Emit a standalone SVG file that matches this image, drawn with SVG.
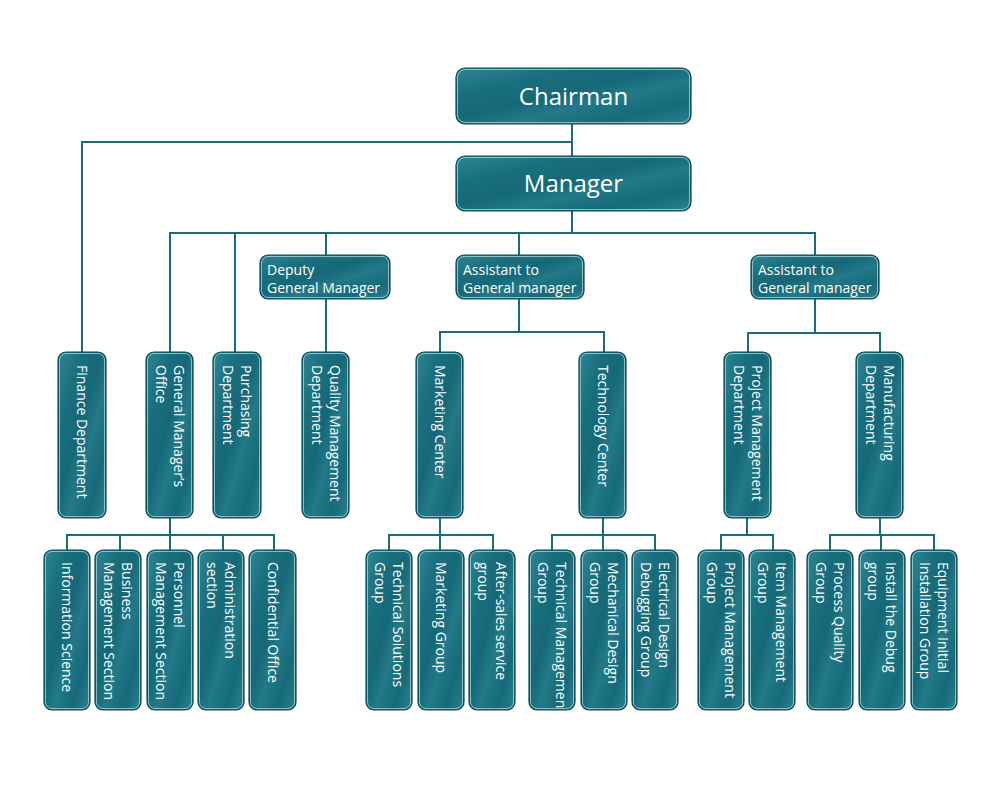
<svg xmlns="http://www.w3.org/2000/svg" width="1000" height="810" viewBox="0 0 1000 810">
<defs>
<linearGradient id="g" x1="0" y1="0" x2="1" y2="1">
<stop offset="0" stop-color="#2f8593"/>
<stop offset="0.25" stop-color="#1a6f7f"/>
<stop offset="0.45" stop-color="#156878"/>
<stop offset="0.6" stop-color="#237988"/>
<stop offset="0.8" stop-color="#166a7a"/>
<stop offset="1" stop-color="#2a8290"/>
</linearGradient>
<clipPath id="clipTM"><rect x="530" y="551" width="44" height="158" rx="7"/></clipPath>
<style>
.box{fill:url(#g);stroke:#0b4750;stroke-width:1.2}
.hi{fill:none;stroke:#b9e0e4;stroke-width:1;opacity:.7}
.lbl{font-family:"Open Sans","Noto Sans",sans-serif;font-size:14px;fill:#fff}
.big{font-size:24px;text-anchor:middle}
.wire{fill:none;stroke:#1a6c7a;stroke-width:2}
</style>
</defs>
<rect width="1000" height="810" fill="#fff"/>
<g id="connectors" class="wire">
<path d="M572 124V156"/>
<path d="M572 142H82V352"/>
<path d="M572 211V233"/>
<path d="M170 352V233H815V255"/>
<path d="M235 233V352"/>
<path d="M326 233V255M326 299V352"/>
<path d="M519 233V255M519 299V332M440 352V332H604V352"/>
<path d="M815 299V333M748 352V333H880V352"/>
<path d="M170 518V535M67 550V535H274V550M120 535V550M170 535V550M223 535V550"/>
<path d="M440 518V535M389 550V535H493V550M440 535V550"/>
<path d="M603 518V535M552 550V535H655V550M603 535V550"/>
<path d="M747 518V535M721 550V535H773V550"/>
<path d="M880 518V535M830 550V535H934V550M881 535V550"/>
</g>

<g id="chairman"><rect class="box" x="456" y="68" width="235" height="56" rx="9"/><rect class="hi" x="457.5" y="69.5" width="232" height="53" rx="7.5"/><text class="lbl big" x="573.5" y="104.5">Chairman</text></g>
<g id="manager"><rect class="box" x="456" y="156" width="235" height="55" rx="9"/><rect class="hi" x="457.5" y="157.5" width="232" height="52" rx="7.5"/><text class="lbl big" x="573.5" y="192">Manager</text></g>

<g id="deputy"><rect class="box" x="260" y="255" width="130" height="44" rx="8"/><rect class="hi" x="261.5" y="256.5" width="127" height="41" rx="6.5"/><text class="lbl"><tspan x="267" y="275">Deputy</tspan><tspan x="267" y="293">General Manager</tspan></text></g>
<g id="assistant1"><rect class="box" x="456" y="255" width="128" height="44" rx="8"/><rect class="hi" x="457.5" y="256.5" width="125" height="41" rx="6.5"/><text class="lbl"><tspan x="463" y="275">Assistant to</tspan><tspan x="463" y="293">General manager</tspan></text></g>
<g id="assistant2"><rect class="box" x="751" y="255" width="128" height="44" rx="8"/><rect class="hi" x="752.5" y="256.5" width="125" height="41" rx="6.5"/><text class="lbl"><tspan x="758" y="275">Assistant to</tspan><tspan x="758" y="293">General manager</tspan></text></g>

<g id="finance"><rect class="box" x="58" y="352" width="48" height="166" rx="8"/><rect class="hi" x="59.5" y="353.5" width="45" height="163" rx="6.5"/><text class="lbl" transform="translate(82 365) rotate(90)" y="5">Finance Department</text></g>
<g id="gm-office"><rect class="box" x="146" y="352" width="47" height="166" rx="8"/><rect class="hi" x="147.5" y="353.5" width="44" height="163" rx="6.5"/><text class="lbl" transform="translate(169.5 365) rotate(90)"><tspan x="0" y="-4">General Manager’s</tspan><tspan x="0" y="14">Office</tspan></text></g>
<g id="purchasing"><rect class="box" x="213" y="352" width="48" height="166" rx="8"/><rect class="hi" x="214.5" y="353.5" width="45" height="163" rx="6.5"/><text class="lbl" transform="translate(237 365) rotate(90)"><tspan x="0" y="-4">Purchasing</tspan><tspan x="0" y="14">Department</tspan></text></g>
<g id="quality"><rect class="box" x="302" y="352" width="47" height="166" rx="8"/><rect class="hi" x="303.5" y="353.5" width="44" height="163" rx="6.5"/><text class="lbl" transform="translate(325.5 365) rotate(90)"><tspan x="0" y="-4">Quality Management</tspan><tspan x="0" y="14">Department</tspan></text></g>
<g id="marketing-center"><rect class="box" x="416" y="352" width="47" height="166" rx="8"/><rect class="hi" x="417.5" y="353.5" width="44" height="163" rx="6.5"/><text class="lbl" transform="translate(439.5 365) rotate(90)" y="5">Marketing Center</text></g>
<g id="technology-center"><rect class="box" x="579" y="352" width="47" height="166" rx="8"/><rect class="hi" x="580.5" y="353.5" width="44" height="163" rx="6.5"/><text class="lbl" transform="translate(602.5 365) rotate(90)" y="5">Technology Center</text></g>
<g id="project-dept"><rect class="box" x="724" y="352" width="47" height="166" rx="8"/><rect class="hi" x="725.5" y="353.5" width="44" height="163" rx="6.5"/><text class="lbl" transform="translate(747.5 365) rotate(90)"><tspan x="0" y="-4">Project Management</tspan><tspan x="0" y="14">Department</tspan></text></g>
<g id="manufacturing"><rect class="box" x="856" y="352" width="47" height="166" rx="8"/><rect class="hi" x="857.5" y="353.5" width="44" height="163" rx="6.5"/><text class="lbl" transform="translate(879.5 365) rotate(90)"><tspan x="0" y="-4">Manufacturing</tspan><tspan x="0" y="14">Department</tspan></text></g>

<g id="info-science"><rect class="box" x="44" y="550" width="46" height="160" rx="8"/><rect class="hi" x="45.5" y="551.5" width="43" height="157" rx="6.5"/><text class="lbl" transform="translate(67 562) rotate(90)" y="5">Information Science</text></g>
<g id="business"><rect class="box" x="95" y="550" width="46" height="160" rx="8"/><rect class="hi" x="96.5" y="551.5" width="43" height="157" rx="6.5"/><text class="lbl" transform="translate(118 562) rotate(90)"><tspan x="0" y="-4">Business</tspan><tspan x="0" y="14">Management Section</tspan></text></g>
<g id="personnel"><rect class="box" x="147" y="550" width="46" height="160" rx="8"/><rect class="hi" x="148.5" y="551.5" width="43" height="157" rx="6.5"/><text class="lbl" transform="translate(170 562) rotate(90)"><tspan x="0" y="-4">Personnel</tspan><tspan x="0" y="14">Management Section</tspan></text></g>
<g id="administration"><rect class="box" x="198" y="550" width="46" height="160" rx="8"/><rect class="hi" x="199.5" y="551.5" width="43" height="157" rx="6.5"/><text class="lbl" transform="translate(221 562) rotate(90)"><tspan x="0" y="-4">Administration</tspan><tspan x="0" y="14">section</tspan></text></g>
<g id="confidential"><rect class="box" x="249" y="550" width="47" height="160" rx="8"/><rect class="hi" x="250.5" y="551.5" width="44" height="157" rx="6.5"/><text class="lbl" transform="translate(272.5 562) rotate(90)" y="5">Confidential Office</text></g>

<g id="tech-solutions"><rect class="box" x="366" y="550" width="46" height="160" rx="8"/><rect class="hi" x="367.5" y="551.5" width="43" height="157" rx="6.5"/><text class="lbl" transform="translate(389 562) rotate(90)"><tspan x="0" y="-4">Technical Solutions</tspan><tspan x="0" y="14">Group</tspan></text></g>
<g id="marketing-group"><rect class="box" x="418" y="550" width="46" height="160" rx="8"/><rect class="hi" x="419.5" y="551.5" width="43" height="157" rx="6.5"/><text class="lbl" transform="translate(441 562) rotate(90)" y="5">Marketing Group</text></g>
<g id="after-sales"><rect class="box" x="469" y="550" width="46" height="160" rx="8"/><rect class="hi" x="470.5" y="551.5" width="43" height="157" rx="6.5"/><text class="lbl" transform="translate(492 562) rotate(90)"><tspan x="0" y="-4">After-sales service</tspan><tspan x="0" y="14">group</tspan></text></g>

<g id="tech-management"><rect class="box" x="529" y="550" width="46" height="160" rx="8"/><rect class="hi" x="530.5" y="551.5" width="43" height="157" rx="6.5"/><g clip-path="url(#clipTM)"><text class="lbl" transform="translate(552 562) rotate(90)"><tspan x="0" y="-4">Technical Management</tspan><tspan x="0" y="14">Group</tspan></text></g></g>
<g id="mechanical"><rect class="box" x="581" y="550" width="46" height="160" rx="8"/><rect class="hi" x="582.5" y="551.5" width="43" height="157" rx="6.5"/><text class="lbl" transform="translate(604 562) rotate(90)"><tspan x="0" y="-4">Mechanical Design</tspan><tspan x="0" y="14">Group</tspan></text></g>
<g id="electrical"><rect class="box" x="632" y="550" width="46" height="160" rx="8"/><rect class="hi" x="633.5" y="551.5" width="43" height="157" rx="6.5"/><text class="lbl" transform="translate(655 562) rotate(90)"><tspan x="0" y="-4">Electrical Design</tspan><tspan x="0" y="14">Debugging Group</tspan></text></g>

<g id="project-group"><rect class="box" x="698" y="550" width="46" height="160" rx="8"/><rect class="hi" x="699.5" y="551.5" width="43" height="157" rx="6.5"/><text class="lbl" transform="translate(721 562) rotate(90)"><tspan x="0" y="-4">Project Management</tspan><tspan x="0" y="14">Group</tspan></text></g>
<g id="item-group"><rect class="box" x="749" y="550" width="46" height="160" rx="8"/><rect class="hi" x="750.5" y="551.5" width="43" height="157" rx="6.5"/><text class="lbl" transform="translate(772 562) rotate(90)"><tspan x="0" y="-4">Item Management</tspan><tspan x="0" y="14">Group</tspan></text></g>

<g id="process-quality"><rect class="box" x="807" y="550" width="46" height="160" rx="8"/><rect class="hi" x="808.5" y="551.5" width="43" height="157" rx="6.5"/><text class="lbl" transform="translate(830 562) rotate(90)"><tspan x="0" y="-4">Process Quality</tspan><tspan x="0" y="14">Group</tspan></text></g>
<g id="install-debug"><rect class="box" x="859" y="550" width="46" height="160" rx="8"/><rect class="hi" x="860.5" y="551.5" width="43" height="157" rx="6.5"/><text class="lbl" transform="translate(882 562) rotate(90)"><tspan x="0" y="-4">Install the Debug</tspan><tspan x="0" y="14">group</tspan></text></g>
<g id="equipment"><rect class="box" x="911" y="550" width="46" height="160" rx="8"/><rect class="hi" x="912.5" y="551.5" width="43" height="157" rx="6.5"/><text class="lbl" transform="translate(934 562) rotate(90)"><tspan x="0" y="-4">Equipment Initial</tspan><tspan x="0" y="14">Installation Group</tspan></text></g>
</svg>
